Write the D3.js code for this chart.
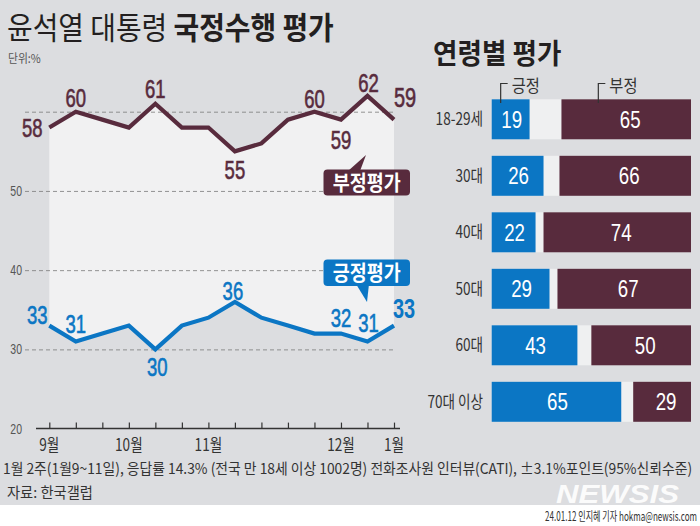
<!DOCTYPE html>
<html><head><meta charset="utf-8">
<script src="https://cdn.jsdelivr.net/npm/d3@7"></script>
<style>
html,body{margin:0;padding:0;background:#fff;}
svg{display:block;}
</style></head>
<body>
<script>
// ---- data ----
const weekIdx = [0,1,2,3,4,5,6,7,8,9,10,11,12,13];
const negValues = [58,60,59,58,61,58,58,55,56,59,60,59,62,59];
const posValues = [33,31,32,33,30,33,34,36,34,33,32,32,31,33];
const monthTicks = [0,3,6,11,13];
const monthLabels = ["9월","10월","11월","12월","1월"];
const yTicks = [20,30,40,50,60];
const negLabelIdx = [0,1,4,7,10,11,12,13];
const negLabelOff = [[-17,0],[0,-14],[0,-15],[0,19],[0,-13],[0,20],[1,-13],[11,-22]];
const posLabelIdx = [0,1,4,7,11,12,13];
const posLabelOff = [[-12,-11],[0,-17],[2,18],[-2,-11],[0,-16],[1,-18],[10,-17]];

const ageGroups = ["18-29세","30대","40대","50대","60대","70대 이상"];
const agePos = [19,26,22,29,43,65];
const ageNeg = [65,66,74,67,50,29];

const W = 700, H = 526;
const BG = "#dcdde0", NEG = "#582b3d", POS = "#0b76c4", LIGHT = "#f1f1f2";
const NUMFONT = "'Liberation Sans','Arial',sans-serif";
const KFONT = "'Noto Sans CJK KR','Noto Sans',sans-serif";

const svg = d3.select("body").append("svg").attr("width", W).attr("height", H);
svg.append("rect").attr("width", W).attr("height", H).attr("fill", "#fff");
svg.append("rect").attr("width", W).attr("height", 505).attr("fill", BG);

// horizontally condensed text placed at (x,y)
function place(sel, fx, fy, sx) {
  return sel.attr("x", 0).attr("y", 0)
    .attr("transform", (d, i) => `translate(${fx(d, i)},${fy(d, i)}) scale(${sx},1)`);
}
// text squeezed to a target width by measuring it
function fitText(x0, y0, width, size, str, anchor) {
  const el = svg.append("text").attr("x", 0).attr("y", 0).attr("font-family", KFONT)
    .attr("font-size", size).attr("fill", "#333").attr("text-anchor", anchor || "start").text(str);
  const w = el.node().getComputedTextLength();
  el.attr("transform", `translate(${x0},${y0}) scale(${width / w},1)`);
  return el;
}

// ---- title ----
const t = svg.append("text").attr("font-family", KFONT)
  .attr("font-size", 31).attr("fill", "#231f20")
  .attr("transform", "translate(7,39) scale(0.9,1)");
t.append("tspan").attr("font-weight", 400).text("윤석열 대통령 ");
t.append("tspan").attr("font-weight", 700).text("국정수행 평가");
svg.append("text").attr("font-family", KFONT).attr("font-size", 12)
  .attr("transform", "translate(8,63) scale(0.9,1)")
  .attr("fill", "#555").text("단위:%");

// ---- line chart ----
const x = d3.scaleLinear().domain([0, 13]).range([49.3, 394]);
const y = d3.scaleLinear().domain([20, 60]).range([428.6, 111.7]);

const band = d3.area().x(i => x(i)).y0(i => y(posValues[i])).y1(i => y(negValues[i]));
svg.append("path").attr("d", band(weekIdx)).attr("fill", LIGHT);

// gridlines (y axis)
const yAxis = d3.axisLeft(y).tickValues(yTicks.filter(v => v > 20))
  .tickSize(-(393 - 25)).tickFormat("");
const gy = svg.append("g").attr("transform", "translate(25,0)").call(yAxis);
gy.select(".domain").remove();
gy.selectAll(".tick line").attr("stroke", "#7a7a7a").attr("stroke-width", 0.8)
  .attr("stroke-dasharray", "4,3");
place(svg.append("g").selectAll("text").data(yTicks.filter(v => v < 60)).join("text"),
    () => 22, d => y(d) + 5, 0.75)
  .attr("text-anchor", "end")
  .attr("font-family", NUMFONT).attr("font-size", 14).attr("fill", "#555").text(d => d);

// x axis
const xAxis = d3.axisBottom(x).tickValues(weekIdx).tickSizeInner(-6).tickSizeOuter(0).tickFormat("");
const gx = svg.append("g").attr("transform", `translate(0,${y(20)})`).call(xAxis);
gx.select(".domain").remove();
gx.selectAll(".tick line").attr("stroke", "#333").attr("stroke-width", 1.2);
svg.append("line").attr("x1", 36).attr("x2", 400).attr("y1", y(20)).attr("y2", y(20))
  .attr("stroke", "#333").attr("stroke-width", 1.5);
place(svg.append("g").selectAll("text").data(monthTicks).join("text"),
    d => x(d), () => 450.5, 0.8)
  .attr("text-anchor", "middle")
  .attr("font-family", KFONT).attr("font-size", 17).attr("fill", "#333")
  .text((d, i) => monthLabels[i]);

// lines
const lineNeg = d3.line().x(i => x(i)).y(i => y(negValues[i]));
const linePos = d3.line().x(i => x(i)).y(i => y(posValues[i]));
svg.append("path").attr("d", lineNeg(weekIdx)).attr("fill", "none").attr("stroke", NEG)
  .attr("stroke-width", 4.2).attr("stroke-linejoin", "miter");
svg.append("path").attr("d", linePos(weekIdx)).attr("fill", "none").attr("stroke", POS)
  .attr("stroke-width", 4.2).attr("stroke-linejoin", "miter");

// value labels
function valueLabels(idx, offs, vals, color, lastBold) {
  const last = idx.length - 1;
  place(svg.append("g").selectAll("text").data(idx).join("text"),
      (d, k) => x(d) + offs[k][0], (d, k) => y(vals[d]) + offs[k][1] + 9, 0.74)
    .attr("text-anchor", "middle").attr("font-family", NUMFONT)
    .attr("font-size", (d, k) => k === last ? 27 : 25)
    .attr("font-weight", (d, k) => (k === last && lastBold) ? 700 : 400)
    .attr("stroke", color).attr("stroke-width", (d, k) => (k === last && lastBold) ? 0 : 0.6)
    .attr("fill", color).text(d => vals[d]);
}
valueLabels(negLabelIdx, negLabelOff, negValues, NEG, false);
valueLabels(posLabelIdx, posLabelOff, posValues, POS, true);

// callouts
function callout(x0, y0, w, h, tail, color, label) {
  const g = svg.append("g");
  g.append("path").attr("d", d3.line()(tail)).attr("fill", color);
  g.append("rect").attr("x", x0).attr("y", y0).attr("width", w).attr("height", h)
    .attr("rx", 4).attr("fill", color);
  g.append("text").attr("font-family", KFONT).attr("font-weight", 700).attr("font-size", 21)
    .attr("text-anchor", "middle").attr("fill", "#fff")
    .attr("transform", `translate(${x0 + w / 2},${y0 + h / 2 + 7.5}) scale(0.88,1)`)
    .text(label);
}
callout(323.5, 169.5, 86.5, 26, [[348, 171], [360, 171], [366, 155]], NEG, "부정평가");
callout(323.5, 259.5, 86.5, 26.5, [[356, 284], [369, 284], [367, 302]], POS, "긍정평가");

// ---- right: age bar chart ----
svg.append("text").attr("font-family", KFONT)
  .attr("font-weight", 700).attr("font-size", 28).attr("fill", "#231f20")
  .attr("transform", "translate(433,64) scale(0.95,1)").text("연령별 평가");

const bx = d3.scaleLinear().domain([0, 100]).range([491.7, 691]);
const by = d3.scaleBand().domain(ageGroups).range([99.3, 421.8]).paddingInner(0.292).paddingOuter(0);

const rows = svg.append("g").selectAll("g").data(ageGroups).join("g");
rows.append("rect").attr("x", bx(0)).attr("y", d => by(d)).attr("width", bx(100) - bx(0))
  .attr("height", by.bandwidth()).attr("fill", "#eff0f1");
rows.append("rect").attr("x", bx(0)).attr("y", d => by(d))
  .attr("width", (d, i) => bx(agePos[i]) - bx(0)).attr("height", by.bandwidth()).attr("fill", POS);
rows.append("rect").attr("x", (d, i) => bx(100 - ageNeg[i])).attr("y", d => by(d))
  .attr("width", (d, i) => bx(100) - bx(100 - ageNeg[i])).attr("height", by.bandwidth()).attr("fill", NEG);
place(rows.append("text"), () => 483, d => by(d) + by.bandwidth() / 2 + 6, 0.8)
  .attr("text-anchor", "end").attr("font-family", KFONT).attr("font-size", 17).attr("fill", "#333")
  .text(d => d);
place(rows.append("text"), (d, i) => (bx(0) + bx(agePos[i])) / 2 + 1,
    d => by(d) + by.bandwidth() / 2 + 8.5, 0.78)
  .attr("text-anchor", "middle")
  .attr("font-family", NUMFONT).attr("font-size", 24).attr("fill", "#fff")
  .text((d, i) => agePos[i]);
place(rows.append("text"), (d, i) => (bx(100 - ageNeg[i]) + bx(100)) / 2 + 4,
    d => by(d) + by.bandwidth() / 2 + 8.5, 0.78)
  .attr("text-anchor", "middle")
  .attr("font-family", NUMFONT).attr("font-size", 24).attr("fill", "#fff")
  .text((d, i) => ageNeg[i]);

// legend brackets
function bracket(xv, label) {
  svg.append("path").attr("d", d3.line()([[xv + 7, 83.5], [xv, 83.5], [xv, 103]]))
    .attr("fill", "none").attr("stroke", "#333").attr("stroke-width", 1.2);
  svg.append("text").attr("font-family", KFONT)
    .attr("transform", `translate(${xv + 11},91.5) scale(0.9,1)`)
    .attr("font-size", 17).attr("fill", "#333").text(label);
}
bracket(bx(4.5), "긍정");
bracket(bx(53.5), "부정");

// ---- footer ----
fitText(3, 474, 690, 15,
  "1월 2주(1월9~11일), 응답률 14.3% (전국 만 18세 이상 1002명) 전화조사원 인터뷰(CATI), ±3.1%포인트(95%신뢰수준)");
fitText(7, 498, 86, 15, "자료: 한국갤럽");
const logo = svg.append("text").attr("x", 0).attr("y", 0).attr("font-family", "'Liberation Sans',sans-serif")
  .attr("font-size", 25).attr("font-weight", 700).attr("font-style", "italic").attr("fill", "#fff")
  .attr("opacity", 0.9).text("NEWSIS");
const lw = logo.node().getComputedTextLength();
logo.attr("transform", `translate(556,503) scale(${123 / lw},1)`);
fitText(697, 520.5, 152, 12.5, "24.01.12 인지혜 기자 hokma@newsis.com", "end");
</script>
</body></html>
